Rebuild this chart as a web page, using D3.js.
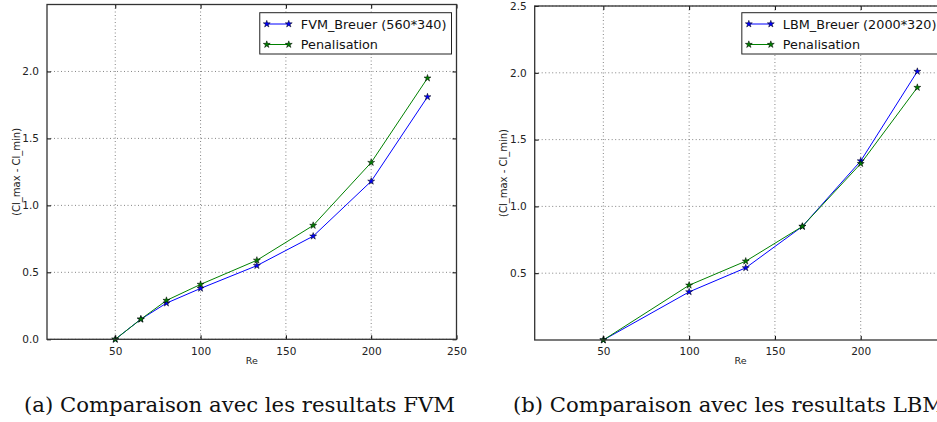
<!DOCTYPE html>
<html>
<head>
<meta charset="utf-8">
<script src="https://cdn.jsdelivr.net/npm/d3@7"></script>
<style>
  html, body { margin: 0; padding: 0; background: #fff; }
  svg { display: block; }
  .tick text { font-family: "DejaVu Sans", sans-serif; }
</style>
</head>
<body>
<svg id="chart" width="937" height="422"></svg>
<script>
// ---- Data ----
const reFVM = [50, 65, 80, 100, 133, 166, 200, 233];
const fvmBreuer = [0.0, 0.15, 0.27, 0.38, 0.55, 0.77, 1.18, 1.81];
const penalA = [0.0, 0.15, 0.29, 0.41, 0.59, 0.85, 1.32, 1.95];

const reLBM = [50, 100, 133, 166, 200, 233];
const lbmBreuer = [0.0, 0.36, 0.54, 0.85, 1.34, 2.01];
const penalB = [0.0, 0.41, 0.59, 0.85, 1.32, 1.89];

const xTicksA = [50, 100, 150, 200, 250];
const yTicksA = [0.0, 0.5, 1.0, 1.5, 2.0];
const xTicksB = [50, 100, 150, 200];
const yTicksB = [0.5, 1.0, 1.5, 2.0, 2.5];

const legendA = ["FVM_Breuer (560*340)", "Penalisation"];
const legendB = ["LBM_Breuer (2000*320)", "Penalisation"];
const captions = ["(a) Comparaison avec les resultats FVM", "(b) Comparaison avec les resultats LBM"];
const xLabel = "Re";
const yLabel = "(Cl_max - Cl_min)";
const seriesColors = ["#0000ff", "#008000"];

const svg = d3.select("#chart");

const panels = [
  { left: 47, right: 456.5, top: 4.5, bottom: 339.3, xDomain: [10, 250], yDomain: [0, 2.5],
    xs: reFVM, series: [fvmBreuer, penalA], xTicks: xTicksA, yTicks: yTicksA,
    legend: legendA, caption: captions[0], captionX: 24, ylabelX: 16 },
  { left: 534.7, right: 946.5, top: 6, bottom: 340, xDomain: [10, 250], yDomain: [0, 2.5],
    xs: reLBM, series: [lbmBreuer, penalB], xTicks: xTicksB, yTicks: yTicksB,
    legend: legendB, caption: captions[1], captionX: 513, ylabelX: 503 }
];

const star = d3.symbol().type(d3.symbolStar).size(15);

panels.forEach((p, pi) => {
  const x = d3.scaleLinear().domain(p.xDomain).range([p.left, p.right]);
  const y = d3.scaleLinear().domain(p.yDomain).range([p.bottom, p.top]);
  const g = svg.append("g");
  const clipId = "clip" + pi;
  svg.append("defs").append("clipPath").attr("id", clipId)
    .append("rect").attr("x", p.left).attr("y", p.top)
    .attr("width", p.right - p.left).attr("height", p.bottom - p.top);

  // grid
  const grid = g.append("g");
  grid.selectAll("line.gx").data(p.xTicks).join("line")
    .attr("x1", d => x(d)).attr("x2", d => x(d))
    .attr("y1", p.top).attr("y2", p.bottom)
    .attr("stroke", "#666").attr("stroke-width", 0.8).attr("stroke-dasharray", "1,2.5");
  grid.selectAll("line.gy").data(p.yTicks).join("line")
    .attr("x1", p.left).attr("x2", p.right)
    .attr("y1", d => y(d)).attr("y2", d => y(d))
    .attr("stroke", "#666").attr("stroke-width", 0.8).attr("stroke-dasharray", "1,2.5");

  // lines
  const plot = g.append("g").attr("clip-path", `url(#${clipId})`);
  const line = d3.line().x(d => x(d[0])).y(d => y(d[1]));
  p.series.forEach((s, si) => {
    const pts = p.xs.map((v, i) => [v, s[i]]);
    plot.append("path").datum(pts).attr("d", line)
      .attr("fill", "none").attr("stroke", seriesColors[si]).attr("stroke-width", 1);
  });
  p.series.forEach((s, si) => {
    const pts = p.xs.map((v, i) => [v, s[i]]);
    g.append("g").selectAll("path").data(pts).join("path")
      .attr("d", star)
      .attr("transform", d => `translate(${x(d[0])},${y(d[1])})`)
      .attr("fill", seriesColors[si]).attr("stroke", "#000").attr("stroke-width", 0.5);
  });

  // axes
  const fmt = d3.format(".1f");
  const axB = g.append("g").attr("transform", `translate(0,${p.bottom})`)
    .call(d3.axisBottom(x).tickValues(p.xTicks).tickSizeInner(-4).tickSizeOuter(0).tickPadding(8));
  const axT = g.append("g").attr("transform", `translate(0,${p.top})`)
    .call(d3.axisTop(x).tickValues(p.xTicks).tickSizeInner(-4).tickSizeOuter(0).tickFormat(""));
  const axL = g.append("g").attr("transform", `translate(${p.left},0)`)
    .call(d3.axisLeft(y).tickValues(p.yTicks).tickSizeInner(-4).tickSizeOuter(0).tickPadding(8).tickFormat(fmt));
  const axR = g.append("g").attr("transform", `translate(${p.right},0)`)
    .call(d3.axisRight(y).tickValues(p.yTicks).tickSizeInner(-4).tickSizeOuter(0).tickFormat(""));
  [axB, axT, axL, axR].forEach(a => {
    a.select(".domain").remove();
    a.selectAll(".tick line").attr("stroke", "#000");
    a.selectAll(".tick text").attr("font-size", 10.5).attr("fill", "#222");
  });
  // frame
  g.append("rect").attr("x", p.left).attr("y", p.top)
    .attr("width", p.right - p.left).attr("height", p.bottom - p.top)
    .attr("fill", "none").attr("stroke", "#333").attr("stroke-width", 1.3);

  // axis labels
  g.append("text").attr("x", (p.left + p.right) / 2).attr("y", 364)
    .attr("text-anchor", "middle").attr("font-family", "DejaVu Sans").attr("font-size", 9.5)
    .attr("fill", "#222").text(xLabel);
  g.append("text").attr("transform", `translate(${p.ylabelX + 3.5},${(p.top + p.bottom) / 2}) rotate(-90)`)
    .attr("text-anchor", "middle").attr("font-family", "DejaVu Sans").attr("font-size", 10)
    .attr("fill", "#222").text(yLabel);

  // legend
  const lg = g.append("g");
  const box = lg.append("rect").attr("fill", "#fff").attr("stroke", "#222").attr("stroke-width", 1);
  const texts = p.legend.map((t, i) => lg.append("text")
    .attr("y", 28.5 + i * 20.5).attr("font-family", "DejaVu Sans").attr("font-size", 12.8)
    .attr("fill", "#111").text(t));
  const tw = d3.max(texts, t => t.node().getComputedTextLength());
  const boxW = 7 + 22 + 12 + tw + 5;
  const bx = p.right - 5 - boxW;
  box.attr("x", bx).attr("y", 12.7).attr("width", boxW).attr("height", 41.3);
  texts.forEach(t => t.attr("x", bx + 41));
  p.legend.forEach((t, i) => {
    const ly = 24 + i * 20.5;
    lg.append("line").attr("x1", bx + 7).attr("x2", bx + 29).attr("y1", ly).attr("y2", ly)
      .attr("stroke", seriesColors[i]).attr("stroke-width", 1);
    [bx + 7, bx + 29].forEach(cx => lg.append("path").attr("d", star)
      .attr("transform", `translate(${cx},${ly})`)
      .attr("fill", seriesColors[i]).attr("stroke", "#000").attr("stroke-width", 0.5));
  });

  // caption
  svg.append("text").attr("x", p.captionX).attr("y", 412)
    .attr("font-family", "DejaVu Serif").attr("font-size", 21).attr("fill", "#111")
    .attr("textLength", 431).attr("lengthAdjust", "spacingAndGlyphs")
    .text(p.caption);
});
</script>
</body>
</html>
